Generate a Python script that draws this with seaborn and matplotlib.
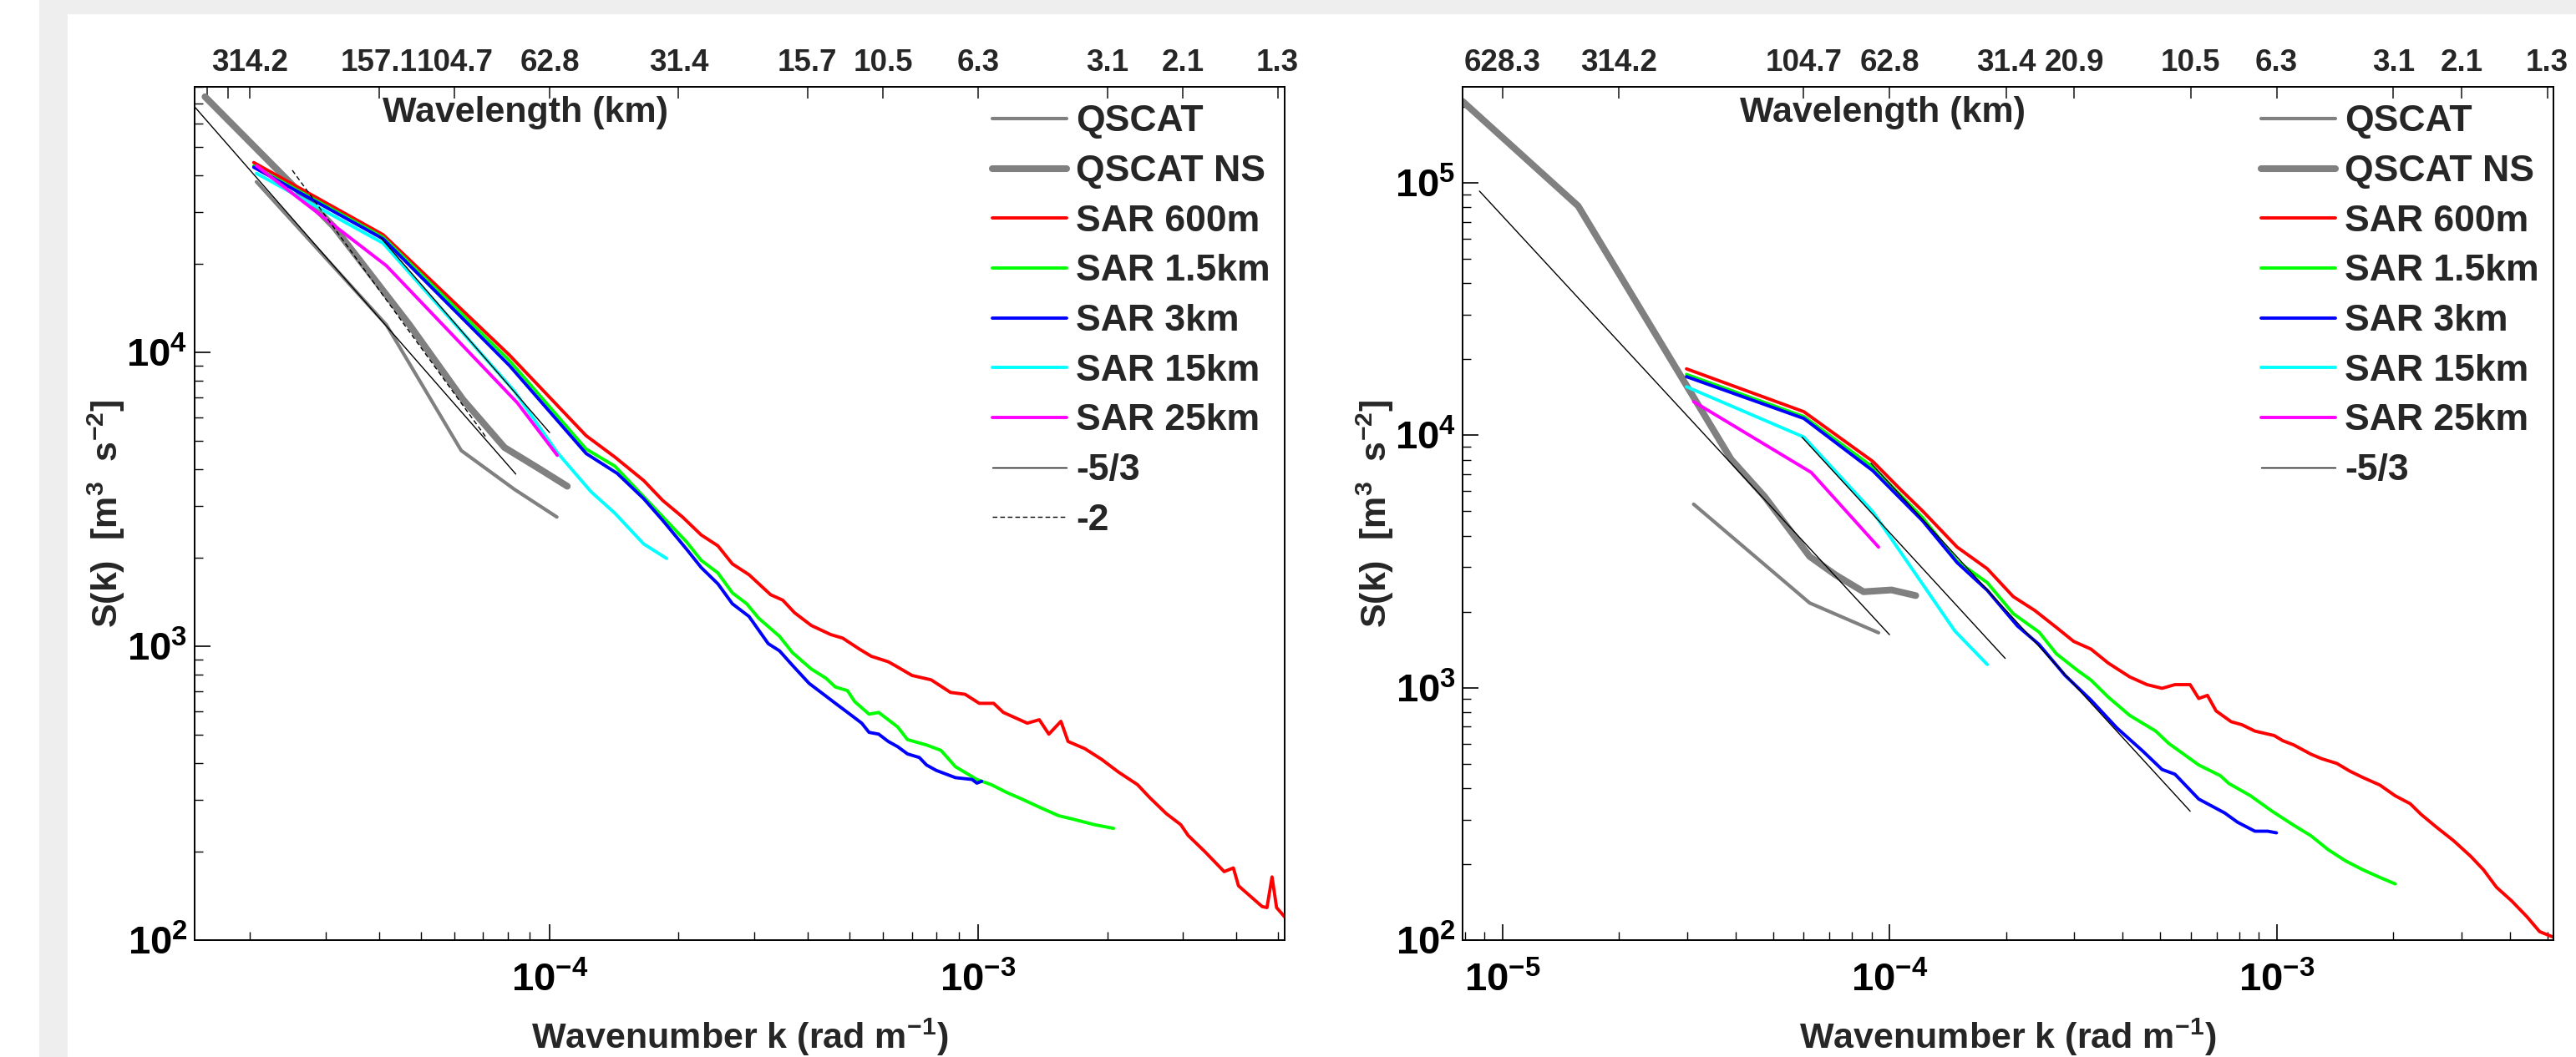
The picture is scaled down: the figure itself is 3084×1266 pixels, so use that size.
import numpy as np
import pandas as pd
import matplotlib
matplotlib.use('Agg')
import matplotlib.pyplot as plt
import seaborn as sns
from matplotlib.ticker import FixedLocator, NullFormatter, LogLocator
from matplotlib.patches import Rectangle

sns.set_style('ticks')
plt.rcParams['font.family'] = ['Liberation Sans', 'DejaVu Sans']
plt.rcParams['font.weight'] = 'bold'
plt.rcParams['axes.labelweight'] = 'bold'
plt.rcParams['mathtext.fontset'] = 'custom'
plt.rcParams['mathtext.rm'] = 'Liberation Sans:bold'
plt.rcParams['mathtext.it'] = 'Liberation Sans:bold'
plt.rcParams['mathtext.bf'] = 'Liberation Sans:bold'

# ---------------- left panel data (wavenumber k in rad/m, S(k) in m^3 s^-2)
qscat_k_L = [2.07e-5, 4.16e-5, 6.22e-5, 8.27e-5, 1.04e-4]
qscat_S_L = [38000, 12400, 4630, 3420, 2750]
qscatns_k_L = [1.57e-5, 3.14e-5, 4.71e-5, 6.28e-5, 7.85e-5, 9.42e-5, 1.10e-4]
qscatns_S_L = [74000, 26700, 12400, 6900, 4740, 4030, 3500]

sar600_k_L = [2.04e-5, 4.09e-5, 8.06e-5, 1.217e-4, 1.42e-4, 1.658e-4, 1.837e-4, 2.04e-4, 2.258e-4,
              2.47e-4, 2.67e-4, 2.92e-4, 3.28e-4, 3.50e-4, 3.73e-4, 4.08e-4, 4.53e-4, 4.83e-4,
              5.28e-4, 5.63e-4, 6.17e-4, 6.49e-4, 7.01e-4, 7.77e-4, 8.62e-4, 9.32e-4, 1.006e-3,
              1.087e-3, 1.145e-3, 1.302e-3, 1.389e-3, 1.462e-3, 1.56e-3, 1.621e-3, 1.774e-3,
              1.941e-3, 2.125e-3, 2.354e-3, 2.51e-3, 2.75e-3, 2.97e-3, 3.09e-3, 3.38e-3, 3.75e-3,
              3.94e-3, 4.05e-3, 4.60e-3, 4.72e-3, 4.85e-3, 4.97e-3, 5.24e-3]
sar600_S_L = [44200, 25100, 9780, 5200, 4400, 3660, 3130, 2755, 2390, 2195, 1905, 1750, 1496, 1434,
              1299, 1176, 1095, 1065, 978, 924, 885, 849, 795, 768, 696, 686, 639, 639, 595, 547,
              562, 502, 555, 474, 448, 412, 373, 338, 306, 269, 247, 227, 200, 171, 176, 153, 130,
              129, 164, 129, 118]

sar1500_k_L = [2.04e-5, 4.09e-5, 8.06e-5, 1.217e-4, 1.42e-4, 1.615e-4, 1.837e-4, 2.09e-4, 2.258e-4,
               2.47e-4, 2.67e-4, 2.884e-4, 3.075e-4, 3.44e-4, 3.686e-4, 4.08e-4, 4.41e-4, 4.645e-4,
               4.955e-4, 5.15e-4, 5.565e-4, 5.86e-4, 6.49e-4, 6.84e-4, 7.58e-4, 8.19e-4, 8.85e-4,
               9.93e-4, 1.073e-3, 1.16e-3, 1.27e-3, 1.407e-3, 1.54e-3, 1.663e-3, 1.867e-3, 2.07e-3]
sar1500_S_L = [43000, 24600, 9370, 4684, 4098, 3358, 2755, 2258, 1959, 1775, 1518, 1394, 1245, 1080,
               951, 836, 779, 726, 706, 648, 587, 595, 531, 481, 461, 442, 389, 352, 338, 319, 301,
               281, 265, 258, 247, 240]

sar3k_k_L = [2.04e-5, 4.09e-5, 8.06e-5, 1.217e-4, 1.438e-4, 1.658e-4, 1.837e-4, 2.09e-4, 2.258e-4,
             2.47e-4, 2.67e-4, 2.92e-4, 3.237e-4, 3.44e-4, 3.686e-4, 4.033e-4, 4.3e-4, 4.645e-4,
             5.02e-4, 5.35e-4, 5.565e-4, 5.86e-4, 6.17e-4, 6.49e-4, 6.84e-4, 7.29e-4, 7.58e-4,
             7.98e-4, 8.85e-4, 9.68e-4, 9.93e-4, 1.019e-3]
sar3k_S_L = [42600, 24300, 9010, 4523, 3871, 3175, 2677, 2133, 1852, 1630, 1394, 1262, 1020, 964,
             861, 747, 696, 639, 587, 547, 509, 502, 474, 455, 430, 418, 394, 378, 357, 352, 342, 347]

sar15k_k_L = [2.07e-5, 4.09e-5, 8.27e-5, 1.042e-4, 1.248e-4, 1.42e-4, 1.658e-4, 1.875e-4]
sar15k_S_L = [40600, 23480, 7385, 4560, 3358, 2834, 2227, 1988]
sar25k_k_L = [2.07e-5, 4.16e-5, 8.41e-5, 1.042e-4]
sar25k_S_L = [43100, 19700, 6726, 4460]

# reference slopes (end points)
ref53a_k_L = [1.49e-5, 8.34e-5]
ref53a_S_L = [68000, 3850]
ref53b_k_L = [4.02e-5, 1.0e-4]
ref53b_S_L = [24700, 5330]
ref2_k_L = [2.51e-5, 7.14e-5]
ref2_S_L = [41600, 5090]

# ---------------- right panel data
qscat_k_R = [3.12e-5, 6.22e-5, 9.37e-5]
qscat_S_R = [5330, 2165, 1650]
qscatns_k_R = [7.9e-6, 1.57e-5, 3.9e-5, 4.76e-5, 6.22e-5, 7.26e-5, 8.57e-5, 1.012e-4, 1.169e-4]
qscatns_S_R = [210000, 80900, 8020, 5710, 3310, 2795, 2398, 2438, 2316]

sar600_k_R = [2.99e-5, 6.01e-5, 9.05e-5, 1.071e-4, 1.222e-4, 1.495e-4, 1.789e-4, 2.087e-4, 2.374e-4,
              2.698e-4, 2.99e-4, 3.313e-4, 3.671e-4, 4.174e-4, 4.624e-4, 5.058e-4, 5.462e-4,
              5.977e-4, 6.29e-4, 6.624e-4, 6.973e-4, 7.628e-4, 8.132e-4, 8.784e-4, 9.855e-4,
              1.038e-3, 1.107e-3, 1.226e-3, 1.307e-3, 1.43e-3, 1.545e-3, 1.668e-3, 1.849e-3,
              2.023e-3, 2.212e-3, 2.359e-3, 2.58e-3, 2.86e-3, 3.168e-3, 3.42e-3, 3.695e-3,
              4.044e-3, 4.424e-3, 4.777e-3, 5.159e-3]
sar600_S_R = [18320, 12390, 7880, 6067, 4981, 3604, 2958, 2295, 2021, 1732, 1525, 1422, 1252, 1103,
              1028, 994, 1028, 1028, 906, 932, 809, 733, 713, 673, 646, 616, 593, 545, 523, 501,
              467, 441, 411, 373, 347, 315, 281, 248, 215, 190, 162, 143, 124, 108, 103]

sar1500_k_R = [2.99e-5, 6.01e-5, 9.05e-5, 1.218e-4, 1.495e-4, 1.789e-4, 2.087e-4, 2.434e-4, 2.698e-4,
               3.067e-4, 3.313e-4, 3.671e-4, 4.174e-4, 4.87e-4, 5.258e-4, 6.29e-4, 7.152e-4,
               7.53e-4, 8.56e-4, 9.73e-4, 1.107e-3, 1.226e-3, 1.359e-3, 1.506e-3, 1.668e-3,
               1.849e-3, 2.023e-3]
sar1500_S_R = [17410, 11850, 7485, 4709, 3172, 2606, 1965, 1660, 1362, 1167, 1072, 918, 776, 673,
               602, 494, 448, 417, 373, 324, 285, 259, 228, 206, 190, 177, 167]

sar3k_k_R = [2.99e-5, 6.01e-5, 9.05e-5, 1.218e-4, 1.495e-4, 1.789e-4, 2.14e-4, 2.434e-4, 2.84e-4,
             3.313e-4, 3.864e-4, 4.508e-4, 5.058e-4, 5.462e-4, 6.29e-4, 7.339e-4, 7.925e-4,
             8.784e-4, 9.487e-4, 9.986e-4]
sar3k_S_R = [17060, 11650, 7240, 4577, 3129, 2429, 1756, 1483, 1119, 893, 693, 561, 474, 454, 362,
             319, 293, 270, 270, 266]

sar15k_k_R = [2.99e-5, 6.01e-5, 9.05e-5, 1.475e-4, 1.789e-4]
sar15k_S_R = [15560, 9830, 4981, 1677, 1235]
sar25k_k_R = [3.12e-5, 6.28e-5, 9.37e-5]
sar25k_S_R = [13580, 7120, 3604]

ref53a_k_R = [8.73e-6, 1.0e-4]
ref53a_S_R = [92700, 1621]
ref53b_k_R = [5.94e-5, 1.99e-4]
ref53b_S_R = [9830, 1306]
ref53c_k_R = [8.96e-5, 5.98e-4]
ref53c_S_R = [7750, 324]

# ---------------- axis / tick settings
top_k_L = [2e-5, 4e-5, 6e-5, 1e-4, 2e-4, 4e-4, 6e-4, 1e-3, 2e-3, 3e-3, 5e-3]
top_lab_L = ['314.2', '157.1', '104.7', '62.8', '31.4', '15.7', '10.5', '6.3', '3.1', '2.1', '1.3']
top_k_R = [1e-5, 2e-5, 6e-5, 1e-4, 2e-4, 3e-4, 6e-4, 1e-3, 2e-3, 3e-3, 5e-3]
top_lab_R = ['628.3', '314.2', '104.7', '62.8', '31.4', '20.9', '10.5', '6.3', '3.1', '2.1', '1.3']

GRAY = '#808080'


def draw_panel(ax, series, xlim, ylim, xmaj, ymaj, top_k, top_lab, top_minor, wl_x):
    for name, k, s, color, lw, ls in series:
        sns.lineplot(x=k, y=s, ax=ax, color=color, lw=lw, linestyle=ls,
                     label=name, sort=False, estimator=None)
    ax.set_xscale('log')
    ax.set_yscale('log')
    ax.set_xlim(xlim)
    ax.set_ylim(ylim)

    ax.set_xticks(xmaj, labels=['$10^{%d}$' % int(np.log10(v)) for v in xmaj])
    ax.set_yticks(ymaj, labels=['$10^{%d}$' % int(np.log10(v)) for v in ymaj])
    ax.xaxis.set_minor_locator(LogLocator(base=10, subs=np.arange(2, 10)))
    ax.yaxis.set_minor_locator(LogLocator(base=10, subs=np.arange(2, 10)))
    ax.xaxis.set_minor_formatter(NullFormatter())
    ax.yaxis.set_minor_formatter(NullFormatter())
    ax.tick_params(which='both', direction='in', top=False, right=False, colors='black')
    ax.tick_params(which='major', length=14, width=1.2, labelsize=34)
    ax.tick_params(which='minor', length=7, width=1.0)
    ax.tick_params(axis='x', which='major', pad=19)
    ax.tick_params(axis='y', which='major', pad=6)
    for sp in ax.spines.values():
        sp.set_linewidth(1.4)
        sp.set_color('black')

    # wavelength axis on top
    sec = ax.secondary_xaxis('top')
    sec.set_xticks(top_k, labels=top_lab)
    sec.xaxis.set_minor_locator(FixedLocator(top_minor))
    sec.xaxis.set_minor_formatter(NullFormatter())
    sec.tick_params(which='both', direction='in', length=10, width=1.2, labelsize=26.5, pad=8)
    sec.spines['top'].set_linewidth(1.4)

    ax.text(wl_x, 0.9695, 'Wavelength (km)', transform=ax.transAxes, fontsize=31,
            fontweight='bold', ha='center', va='center')
    ax.set_xlabel('Wavenumber k (rad m$^{-1}$)', fontsize=31, va='center')
    ax.xaxis.set_label_coords(0.5, -0.114)
    ax.set_ylabel('S(k)  [m$^{3}$  s$^{-2}$]', fontsize=31, va='center')
    ax.yaxis.set_label_coords(-0.0805, 0.5)

    ax.legend(loc='upper left', bbox_to_anchor=(0.732, 0.979), frameon=False,
              prop={'size': 32, 'weight': 'bold'}, handlelength=2.0, handletextpad=0.25,
              labelspacing=0.42, borderpad=0, borderaxespad=0)


fig = plt.figure(figsize=(30.84, 12.66), dpi=100)
fig.patch.set_facecolor('white')
fig.add_artist(Rectangle((47 / 3084, 1 - 17 / 1266), 1, 17 / 1266, transform=fig.transFigure,
                         facecolor='#eeeeee', edgecolor='none', zorder=0))
fig.add_artist(Rectangle((47 / 3084, 0), 34 / 3084, 1, transform=fig.transFigure,
                         facecolor='#eeeeee', edgecolor='none', zorder=0))

ax1 = fig.add_axes([0.0755, 0.1106, 0.4232, 0.8073])
ax2 = fig.add_axes([0.5678, 0.1106, 0.4235, 0.8073])

left_series = [
    ('QSCAT', qscat_k_L, qscat_S_L, GRAY, 3.0, '-'),
    ('QSCAT NS', qscatns_k_L, qscatns_S_L, GRAY, 5.8, '-'),
    ('SAR 600m', sar600_k_L, sar600_S_L, '#ff0000', 2.8, '-'),
    ('SAR 1.5km', sar1500_k_L, sar1500_S_L, '#00ff00', 2.8, '-'),
    ('SAR 3km', sar3k_k_L, sar3k_S_L, '#0000ff', 2.8, '-'),
    ('SAR 15km', sar15k_k_L, sar15k_S_L, '#00ffff', 2.8, '-'),
    ('SAR 25km', sar25k_k_L, sar25k_S_L, '#ff00ff', 2.8, '-'),
    ('-5/3', ref53a_k_L, ref53a_S_L, 'black', 1.0, '-'),
    ('_ref2', ref53b_k_L, ref53b_S_L, 'black', 1.0, '-'),
    ('-2', ref2_k_L, ref2_S_L, 'black', 1.0, (0, (4, 2.5))),
]
right_series = [
    ('QSCAT', qscat_k_R, qscat_S_R, GRAY, 3.0, '-'),
    ('QSCAT NS', qscatns_k_R, qscatns_S_R, GRAY, 5.8, '-'),
    ('SAR 600m', sar600_k_R, sar600_S_R, '#ff0000', 2.8, '-'),
    ('SAR 1.5km', sar1500_k_R, sar1500_S_R, '#00ff00', 2.8, '-'),
    ('SAR 3km', sar3k_k_R, sar3k_S_R, '#0000ff', 2.8, '-'),
    ('SAR 15km', sar15k_k_R, sar15k_S_R, '#00ffff', 2.8, '-'),
    ('SAR 25km', sar25k_k_R, sar25k_S_R, '#ff00ff', 2.8, '-'),
    ('-5/3', ref53a_k_R, ref53a_S_R, 'black', 1.0, '-'),
    ('_ref2', ref53b_k_R, ref53b_S_R, 'black', 1.0, '-'),
    ('_ref3', ref53c_k_R, ref53c_S_R, 'black', 1.0, '-'),
]

draw_panel(ax1, left_series, (1.484e-5, 5.19e-3), (100, 8.0e4), [1e-4, 1e-3], [1e2, 1e3, 1e4],
           top_k_L, top_lab_L, [1.59e-5, 1.78e-5], 0.3034)
draw_panel(ax2, right_series, (7.9e-6, 5.19e-3), (100, 2.4e5), [1e-5, 1e-4, 1e-3],
           [1e2, 1e3, 1e4, 1e5], top_k_R, top_lab_R, [], 0.3848)

fig.savefig('out.png', dpi=100, facecolor='white')
